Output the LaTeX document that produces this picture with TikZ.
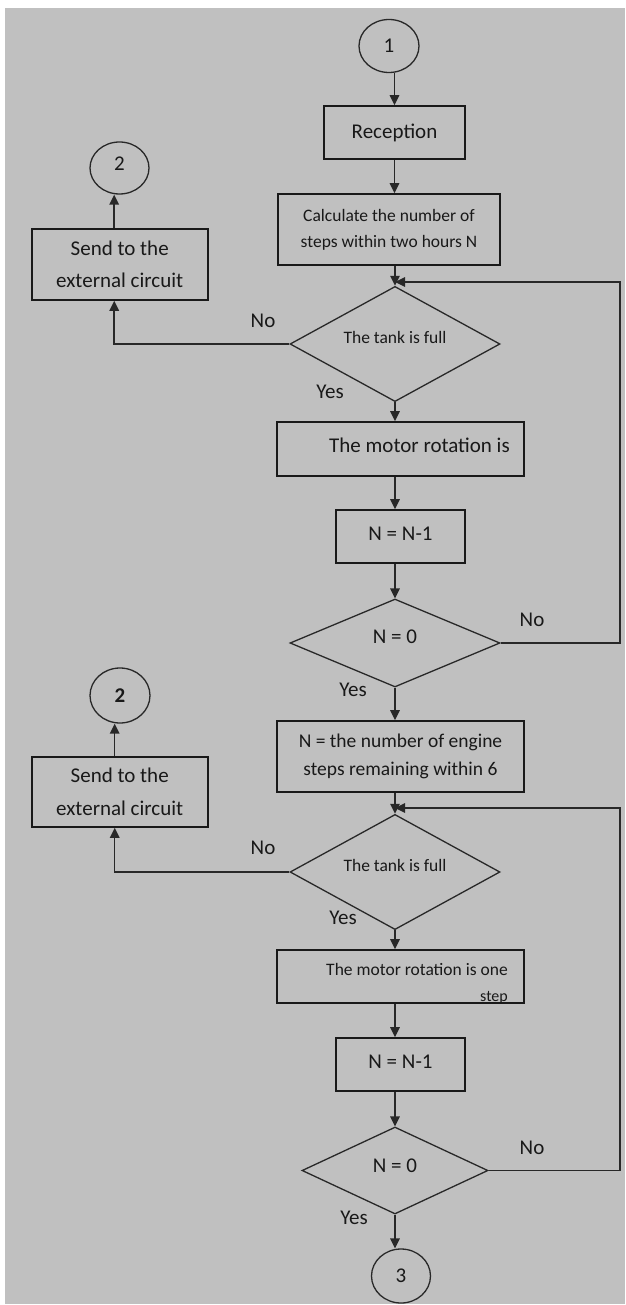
\documentclass[tikz,border=0pt]{standalone}
\usepackage{fontspec}
\setmainfont{Carlito}
\usetikzlibrary{shapes.geometric,arrows.meta}
\definecolor{bggray}{RGB}{192,192,192}
\definecolor{ink}{RGB}{40,40,40}
\newcommand{\up}[2]{\raisebox{#1}[\height][\depth]{#2}}
\begin{document}
\begin{tikzpicture}[x=1pt,y=-1pt,
  every node/.style={inner sep=0pt, text=black!90},
  big/.style={font=\fontsize{21}{26}\selectfont},
  small/.style={font=\fontsize{17.5}{26}\selectfont},
  box/.style={draw=black!90, line width=1.6pt, align=center},
  dec/.style={diamond, draw=ink, line width=1.3pt, align=center, minimum width=210pt, minimum height=88pt},
  conn/.style={ellipse, draw=ink, line width=1.3pt, big},
  arr/.style={draw=ink, line width=1.5pt, -{Triangle[length=10pt,width=9.5pt]}},
  lab/.style={big}
]
\useasboundingbox (0,0) rectangle (625,1305);
\fill[bggray] (5,8) rectangle (625,1304);

% main column, upper part
\node[conn, minimum width=60pt, minimum height=53pt] (c1) at (389,46) {1};
\node[box, big, minimum width=141pt, minimum height=53pt] (rec) at (394.5,132.5) {Reception};
\node[box, font=\fontsize{17.5}{26}\selectfont, minimum width=222pt, minimum height=71pt] (calc) at (389,229.5) {Calculate the number of\\steps within two hours N};
\coordinate (j1) at (395,282);
\node[dec, small] (d1) at (395,344) {\up{7pt}{The tank is full}};
\node[box, minimum width=247pt, minimum height=54pt] (m1) at (400.5,449) {};
\node[big, anchor=east] (m1t) at (510,445) {The motor rotation is};
\node[box, big, minimum width=129pt, minimum height=53pt] (n1) at (400.5,536.5) {\up{3pt}{N = N-1}};
\node[dec, big] (d2) at (395,643) {\up{6pt}{N = 0}};

% main column, lower part
\node[box, font=\fontsize{19.5}{28}\selectfont, minimum width=247pt, minimum height=71pt] (eng) at (400.5,756.5) {N = the number of engine\\steps remaining within 6};
\coordinate (j2) at (395,808);
\node[dec, small] (d3) at (395,872) {\up{7pt}{The tank is full}};
\node[box, minimum width=247pt, minimum height=53pt] (m2) at (400.5,976.5) {};
\node[small, anchor=east] (m2t) at (508,969) {The motor rotation is one};
\begin{scope}
  \clip (m2.south west) rectangle (m2.north east);
  \node[font=\fontsize{16}{16}\selectfont, anchor=base east] (m2s) at (508,1001.5) {step};
\end{scope}
\node[box, big, minimum width=129pt, minimum height=53pt] (n2) at (400.5,1064.5) {\up{3pt}{N = N-1}};
\node[dec, big, minimum width=186pt, minimum height=87pt] (d4) at (395,1170.5) {\up{5pt}{N = 0}};
\node[conn, minimum width=59pt, minimum height=54pt] (c3) at (401,1276) {3};

% left column
\node[conn, minimum width=59pt, minimum height=52pt] (c2a) at (119.5,168) {\up{4pt}{2}};
\node[box, font=\fontsize{21}{32.5}\selectfont, minimum width=176pt, minimum height=71pt] (s1) at (119.7,264.5) {Send to the\\external circuit};
\node[conn, minimum width=60pt, minimum height=55pt] (c2b) at (120,695.5) {\textbf{2}};
\node[box, font=\fontsize{21}{32.5}\selectfont, minimum width=176pt, minimum height=70pt] (s2) at (119.7,792) {Send to the\\external circuit};

% vertical flow
\draw[arr] (c1.south -| rec.north) -- (rec.north);
\draw[arr] (rec.south) -- (rec.south |- calc.north);
\draw[arr] (calc.south -| d1.north) -- (d1.north);
\draw[arr] (d1.south) -- (d1.south |- m1.north);
\draw[arr] (m1.south -| d1.south) -- (n1.north -| d1.south);
\draw[arr] (n1.south -| d2.north) -- (d2.north);
\draw[arr] (d2.south) -- (d2.south |- eng.north);
\draw[arr] (eng.south -| d3.north) -- (d3.north);
\draw[arr] (d3.south) -- (d3.south |- m2.north);
\draw[arr] (m2.south -| d3.south) -- (n2.north -| d3.south);
\draw[arr] (n2.south -| d4.north) -- (d4.north);
\draw[arr] (d4.south) -- (d4.south |- c3.north);

% loops back
\coordinate (r1) at (620,643);
\coordinate (r2) at (620,1170.5);
\draw[arr] (d2.east) -- (r1) |- (j1);
\draw[arr] (d4.east) -- (r2) |- (j2);

% "No" branches to the left
\draw[arr] (d1.west) -| ([xshift=-5.5pt]s1.south);
\draw[arr] ([xshift=-5.5pt]s1.north) -- ([xshift=-5.5pt]s1.north |- c2a.south);
\draw[arr] (d3.west) -| ([xshift=-5pt]s2.south);
\draw[arr] ([xshift=-5pt]s2.north) -- ([xshift=-5pt]s2.north |- c2b.south);

% labels
\node[lab] (no1) at (263,321) {No};
\node[lab] (yes1) at (330,392) {Yes};
\node[lab] (no2) at (532,620) {No};
\node[lab] (yes2) at (353,690) {Yes};
\node[lab] (no3) at (263,848) {No};
\node[lab] (yes3) at (343,918) {Yes};
\node[lab] (no4) at (532,1148) {No};
\node[lab] (yes4) at (354,1218) {Yes};
\end{tikzpicture}
\end{document}
